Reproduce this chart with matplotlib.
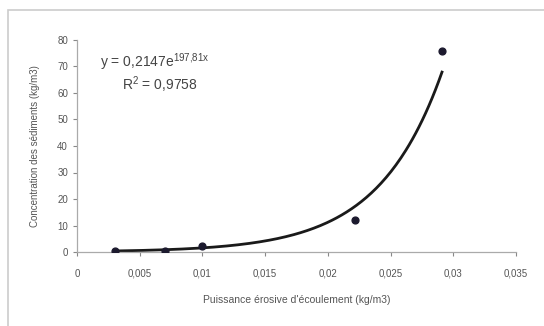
import numpy as np
import matplotlib
matplotlib.use("Agg")
import matplotlib.pyplot as plt
from matplotlib.patches import Rectangle
from matplotlib.ticker import FuncFormatter

plt.rcParams['font.family'] = ['Liberation Sans', 'DejaVu Sans']

# Measured points
power = [0.003, 0.0070, 0.0100, 0.0222, 0.0291]
concentration = [0.5, 0.4, 2.4, 12.0, 76.0]

# Exponential trendline parameters
fit_a = 0.2147
fit_b = 197.81
fit_r2 = 0.9758

x_ticks = [0, 0.005, 0.01, 0.015, 0.02, 0.025, 0.03, 0.035]
y_ticks = [0, 10, 20, 30, 40, 50, 60, 70, 80]

grey = '#888888'
text_grey = '#555555'

fig = plt.figure(figsize=(5.44, 3.26), dpi=100)
fig.patch.set_facecolor('white')
fig.patches.append(Rectangle((8 / 544, -0.05), 1.1, 1 - 10 / 326 + 0.05,
                             transform=fig.transFigure, fill=False,
                             edgecolor='#cccccc', linewidth=1.2))

ax = fig.add_axes([77 / 544, 1 - 252 / 326, (516 - 77) / 544, (252 - 40) / 326])
ax.set_xlim(0, 0.035)
ax.set_ylim(0, 80)

xs = np.linspace(power[0], power[-1], 200)
ax.plot(xs, fit_a * np.exp(fit_b * xs), color='#1a1a1a', linewidth=2.0, zorder=2)
ax.scatter(power, concentration, s=24, marker='o', color='#1c1a2e', zorder=3)

def comma_fmt(v, pos):
    if v == 0:
        return '0'
    return ('%g' % v).replace('.', ',')

ax.set_xticks(x_ticks)
ax.set_yticks(y_ticks)
ax.xaxis.set_major_formatter(FuncFormatter(comma_fmt))
ax.tick_params(axis='both', colors=grey, labelsize=7, length=3, width=0.8,
               labelcolor=text_grey)
ax.tick_params(axis='x', pad=9)

for side in ('top', 'right'):
    ax.spines[side].set_visible(False)
for side in ('left', 'bottom'):
    ax.spines[side].set_color('#aaaaaa')
    ax.spines[side].set_linewidth(0.9)

ax.set_xlabel("Puissance érosive d'écoulement (kg/m3)", fontsize=7.5,
              color=text_grey, labelpad=12)
ax.set_ylabel("Concentration des sédiments (kg/m3)", fontsize=7,
              color=text_grey, labelpad=12)

fig.text(100 / 544, 1 - 62 / 326,
         r'y = 0,2147e$^{\mathregular{197{,}81x}}$', fontsize=10,
         color='#444444', va='center')
fig.text(122 / 544, 1 - 85 / 326,
         r'R$^{\mathregular{2}}$ = ' + ('%.4f' % fit_r2).replace('.', ','),
         fontsize=10, color='#444444', va='center')

fig.savefig('out.png', dpi=100, facecolor='white')
